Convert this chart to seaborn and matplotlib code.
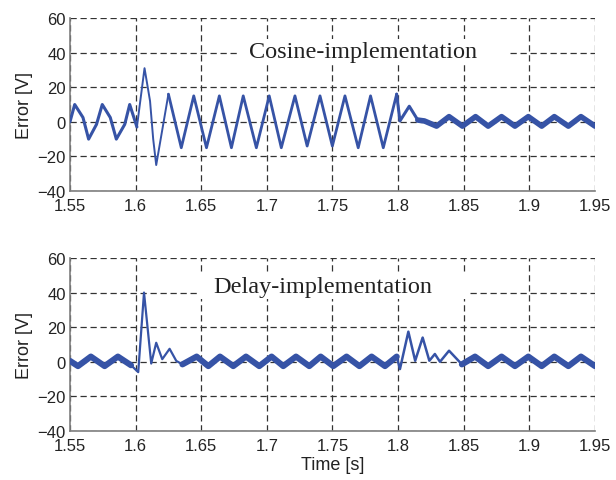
import numpy as np
import pandas as pd
import matplotlib
matplotlib.use("Agg")
import matplotlib.pyplot as plt
import seaborn as sns
from matplotlib.patches import Rectangle

sns.set_theme(style="white")
plt.rcParams['font.family'] = ['Liberation Sans', 'DejaVu Sans']

BLUE = "#3653a6"

# ---------------- data ----------------
# Top panel: cosine implementation
cos_pre_t = [1.550, 1.5536, 1.5599, 1.5642, 1.5702, 1.5746, 1.5807, 1.5853, 1.5917, 1.5955, 1.6010]
cos_pre_v = [0.0, 10.0, 2.5, -10.0, -1.5, 10.0, 2.5, -10.0, -1.5, 10.0, -3.0]

cos_tr_t = [1.6010, 1.6068, 1.6110, 1.6134, 1.6157, 1.6250]
cos_tr_v = [-3.0, 31.0, 12.0, -10.0, -25.0, 16.0]

cos_tri_t = [1.6250, 1.6348, 1.6443, 1.6540, 1.6638, 1.6730, 1.6820, 1.6920, 1.7018,
             1.7110, 1.7214, 1.7307, 1.7405, 1.7499, 1.7595, 1.7696, 1.7790, 1.7887, 1.7989]
cos_tri_v = [16.0, -15.0, 15.0, -15.0, 15.0, -15.0, 15.0, -15.0, 15.0,
             -15.0, 15.0, -14.0, 15.0, -14.0, 15.0, -15.0, 15.0, -15.0, 16.0]

cos_post_t = [1.7989, 1.8014, 1.8085, 1.8150]
cos_post_v = [16.0, 0.5, 9.0, 1.0]

cos_sin_t = [1.8150, 1.8200, 1.8293, 1.8388, 1.8490, 1.8590, 1.8686, 1.8788, 1.8890,
             1.8992, 1.9094, 1.9190, 1.9297, 1.9393, 1.9500]
cos_sin_v = [1.0, 0.5, -2.5, 3.0, -2.5, 3.0, -2.5, 3.0, -2.5,
             3.0, -2.5, 3.0, -2.5, 3.0, -2.5]

# Bottom panel: delay implementation
del_sin1_t = [1.550, 1.5561, 1.5659, 1.5764, 1.5865, 1.5965]
del_sin1_v = [0.5, -2.5, 3.0, -2.5, 3.0, -2.0]

del_tr1_t = [1.5965, 1.6020, 1.6064, 1.6119, 1.6157, 1.6203, 1.6259, 1.6310, 1.6357]
del_tr1_v = [-2.0, -6.0, 40.0, -1.0, 11.0, 1.5, 7.5, 0.5, -1.5]

del_sin2_t = [1.6357, 1.6465, 1.6554, 1.6643, 1.6744, 1.6841, 1.6942, 1.7036, 1.7125,
              1.7222, 1.7323, 1.7410, 1.7506, 1.7607, 1.7705, 1.7798, 1.7900, 1.7989]
del_sin2_v = [-1.5, 3.0, -2.5, 3.0, -2.5, 3.0, -2.5, 3.0, -2.5,
              3.0, -2.5, 3.0, -2.5, 3.0, -2.5, 3.0, -2.5, 3.0]

del_tr2_t = [1.7989, 1.8014, 1.8078, 1.8130, 1.8187, 1.8238, 1.8280, 1.8319, 1.8388, 1.8486]
del_tr2_v = [3.0, -4.2, 17.4, 0.6, 14.0, 0.6, 4.5, 0.0, 6.4, -1.5]

del_sin3_t = [1.8486, 1.8586, 1.8686, 1.8788, 1.8890, 1.8992, 1.9094, 1.9190, 1.9297, 1.9393, 1.9500]
del_sin3_v = [-1.5, 3.0, -2.5, 3.0, -2.5, 3.0, -2.5, 3.0, -2.5, 3.0, -2.5]

x_ticks = [1.55, 1.60, 1.65, 1.70, 1.75, 1.80, 1.85, 1.90, 1.95]
x_tick_labels = ["1.55", "1.6", "1.65", "1.7", "1.75", "1.8", "1.85", "1.9", "1.95"]
y_ticks = [-40, -20, 0, 20, 40, 60]

# ---------------- figure ----------------
fig = plt.figure(figsize=(6.16, 4.81), dpi=100)
ax1 = fig.add_axes([0.1136, 0.6008, 0.8523, 0.3597])
ax2 = fig.add_axes([0.1136, 0.1019, 0.8523, 0.3597])


def seg(ax, t, v, lw):
    df = pd.DataFrame({"t": t, "v": v})
    sns.lineplot(data=df, x="t", y="v", ax=ax, color=BLUE, linewidth=lw,
                 estimator=None, sort=False, solid_joinstyle="round",
                 solid_capstyle="round", zorder=3)


seg(ax1, cos_pre_t, cos_pre_v, 2.2)
seg(ax1, cos_tr_t, cos_tr_v, 1.4)
seg(ax1, cos_tri_t, cos_tri_v, 2.0)
seg(ax1, cos_post_t, cos_post_v, 2.2)
seg(ax1, cos_sin_t, cos_sin_v, 4.0)

seg(ax2, del_sin1_t, del_sin1_v, 4.4)
seg(ax2, del_tr1_t, del_tr1_v, 1.6)
seg(ax2, del_sin2_t, del_sin2_v, 4.4)
seg(ax2, del_tr2_t, del_tr2_v, 1.8)
seg(ax2, del_sin3_t, del_sin3_v, 4.4)

for ax in (ax1, ax2):
    ax.set_xlim(1.55, 1.95)
    ax.set_ylim(-40, 60)
    ax.set_xticks(x_ticks)
    ax.set_xticklabels(x_tick_labels)
    ax.set_yticks(y_ticks)
    ax.grid(True, color="#333333", linestyle=(0, (5, 3)), linewidth=0.9)
    ax.set_axisbelow(True)
    for s in ("top", "right"):
        ax.spines[s].set_visible(False)
    for s in ("left", "bottom"):
        ax.spines[s].set_color("#7f7f7f")
        ax.spines[s].set_linewidth(1.2)
    ax.tick_params(axis="both", labelsize=12, colors="#222222", direction="in",
                   length=3, color="#7f7f7f")
    ax.tick_params(axis="y", pad=3)
    ax.tick_params(axis="x", pad=5)
    ax.set_ylabel("Error [V]", fontsize=13, color="#222222", labelpad=3)
    ax.set_xlabel("")
    ax.set_facecolor("white")

ax2.set_xlabel("Time [s]", fontsize=13, color="#222222", labelpad=2)

# text labels with white background hiding grid lines
ax1.add_patch(Rectangle((1.6775, 34), 0.2055, 14, facecolor="white", edgecolor="none", zorder=2))
ax1.text(1.7732, 40.5, "Cosine-implementation", fontsize=17.5, family=["Liberation Serif"],
         ha="center", va="center", color="#222222", zorder=4)
ax2.add_patch(Rectangle((1.649, 36), 0.206, 16, facecolor="white", edgecolor="none", zorder=2))
ax2.text(1.7428, 43.5, "Delay-implementation", fontsize=17.5, family=["Liberation Serif"],
         ha="center", va="center", color="#222222", zorder=4)

fig.savefig("out.png", dpi=100)
